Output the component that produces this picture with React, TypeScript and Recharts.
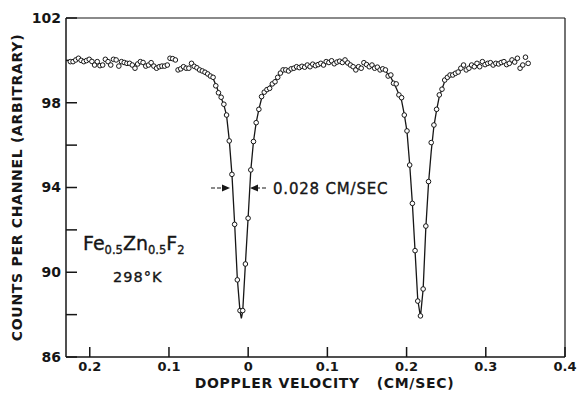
import { ComposedChart, Line, Scatter, XAxis, YAxis, ReferenceLine } from 'recharts'

// channel velocities (cm/sec) and counts
const velocity = [
  -0.2245, -0.2211, -0.2177, -0.2143, -0.2109, -0.2075, -0.2041, -0.2007, -0.1973, -0.1939,
  -0.1905, -0.1871, -0.1837, -0.1803, -0.1769, -0.1735, -0.1701, -0.1667, -0.1633, -0.1599,
  -0.1565, -0.1531, -0.1497, -0.1463, -0.1429, -0.1395, -0.1361, -0.1327, -0.1293, -0.1259,
  -0.1225, -0.1191, -0.1157, -0.1123, -0.1089, -0.1055, -0.1021, -0.0987, -0.0953, -0.0919,
  -0.0885, -0.0851, -0.0817, -0.0783, -0.0749, -0.0715, -0.0681, -0.0647, -0.0613, -0.0579,
  -0.0545, -0.0511, -0.0477, -0.0443, -0.0409, -0.0375, -0.0341, -0.0307, -0.0273, -0.0239,
  -0.0205, -0.0171, -0.0137, -0.0103, -0.0069, -0.0035, -0.0001, 0.0033, 0.0067, 0.0101,
  0.0135, 0.0169, 0.0203, 0.0237, 0.0271, 0.0305, 0.0339, 0.0373, 0.0407, 0.0441,
  0.0475, 0.0509, 0.0543, 0.0577, 0.0611, 0.0645, 0.0679, 0.0713, 0.0747, 0.0781,
  0.0815, 0.0849, 0.0883, 0.0917, 0.0951, 0.0985, 0.1019, 0.1053, 0.1087, 0.1121,
  0.1155, 0.1189, 0.1223, 0.1257, 0.1291, 0.1325, 0.1359, 0.1393, 0.1427, 0.1461,
  0.1495, 0.1529, 0.1563, 0.1597, 0.1631, 0.1665, 0.1699, 0.1733, 0.1767, 0.1801,
  0.1835, 0.1869, 0.1903, 0.1937, 0.1971, 0.2005, 0.2039, 0.2073, 0.2107, 0.2141,
  0.2175, 0.2209, 0.2243, 0.2277, 0.2311, 0.2345, 0.2379, 0.2413, 0.2447, 0.2481,
  0.2515, 0.2549, 0.2583, 0.2617, 0.2651, 0.2685, 0.2719, 0.2753, 0.2787, 0.2821,
  0.2855, 0.2889, 0.2923, 0.2957, 0.2991, 0.3025, 0.3059, 0.3093, 0.3127, 0.3161,
  0.3195, 0.3229, 0.3263, 0.3297, 0.3331, 0.3365, 0.3399, 0.3433, 0.3467, 0.3501,
  0.3535,
]

const counts = [
  99.94, 99.94, 100.02, 100.1, 100.0, 99.94, 99.99, 100.05, 99.95, 99.78,
  99.94, 99.75, 99.78, 100.05, 99.94, 99.78, 100.05, 100.02, 99.73, 99.94,
  99.9, 99.86, 99.86, 99.78, 99.63, 99.83, 99.94, 99.9, 99.73, 99.78,
  99.89, 99.73, 99.63, 99.7, 99.73, 99.73, 99.78, 100.1, 100.08, 100.02,
  99.55, 99.6, 99.7, 99.63, 99.63, 99.86, 99.72, 99.65, 99.55, 99.5,
  99.44, 99.36, 99.26, 99.2, 98.8, 98.47, 98.26, 97.93, 97.42, 96.2,
  94.62, 92.26, 89.64, 88.19, 88.19, 90.39, 92.55, 94.83, 96.17, 97.06,
  97.69, 98.29, 98.5, 98.62, 98.68, 98.89, 98.99, 99.2, 99.4, 99.55,
  99.55, 99.5, 99.6, 99.63, 99.7, 99.66, 99.72, 99.68, 99.78, 99.7,
  99.82, 99.75, 99.8, 99.86, 99.78, 99.94, 99.9, 99.98, 99.84, 99.92,
  99.96, 99.9, 100.02, 99.88, 99.78, 99.7, 99.55, 99.7, 99.63, 99.89,
  99.8, 99.7, 99.78, 99.63, 99.68, 99.55, 99.6, 99.55, 99.26, 99.31,
  98.92, 98.89, 98.37, 98.24, 97.42, 96.67, 95.06, 93.25, 91.02, 88.64,
  87.94, 89.21, 92.18, 94.28, 96.12, 96.95, 97.69, 98.37, 98.64, 99.07,
  99.2, 99.31, 99.31, 99.39, 99.45, 99.63, 99.78, 99.55, 99.63, 99.78,
  99.7, 99.86, 99.7, 99.94, 99.8, 99.86, 99.89, 99.78, 99.86, 99.83,
  99.9, 99.94, 99.8, 99.86, 100.02, 99.92, 100.1, 99.63, 99.78, 100.15,
  99.86,
]

// hand-drawn curves through the two absorption lines
const fit1Velocity = [
  -0.0511, -0.0477, -0.0443, -0.0409, -0.0375, -0.0341, -0.0307, -0.0273, -0.0239, -0.0205,
  -0.0171, -0.0137, -0.0103, -0.0086, -0.0069, -0.0035, -0.0001, 0.0033, 0.0067, 0.0101,
  0.0135, 0.0169, 0.0203, 0.0237, 0.0271, 0.0305, 0.0339, 0.0373, 0.0407,
]
const fit1Counts = [
  99.36, 99.28, 99.15, 98.85, 98.52, 98.22, 97.9, 97.4, 96.25, 94.62,
  92.3, 89.7, 88.15, 87.82, 88.15, 90.4, 92.55, 94.8, 96.17, 97.06,
  97.69, 98.2, 98.5, 98.65, 98.78, 98.92, 99.05, 99.2, 99.4,
]
const fit2Velocity = [
  0.1699, 0.1733, 0.1767, 0.1801, 0.1835, 0.1869, 0.1903, 0.1937, 0.1971, 0.2005,
  0.2039, 0.2073, 0.2107, 0.2141, 0.2175, 0.2209, 0.2243, 0.2277, 0.2311, 0.2345,
  0.2379, 0.2413, 0.2447, 0.2481, 0.2515, 0.2549,
]
const fit2Counts = [
  99.6, 99.5, 99.35, 99.2, 98.95, 98.7, 98.4, 98.1, 97.45, 96.65,
  95.1, 93.25, 91.0, 88.7, 87.9, 89.2, 92.1, 94.2, 95.7, 96.9,
  97.65, 98.3, 98.65, 99.0, 99.2, 99.3,
]

const xTicks = [-0.2, -0.1, 0, 0.1, 0.2, 0.3, 0.4]
const yTicks = [86, 88, 90, 92, 94, 96, 98, 100, 102]
const yLabelled = [86, 90, 94, 98, 102]

const points = velocity.map((v, i) => ({ v, c: counts[i] }))
const fit1 = fit1Velocity.map((v, i) => ({ v, c: fit1Counts[i] }))
const fit2 = fit2Velocity.map((v, i) => ({ v, c: fit2Counts[i] }))

const ink = '#161616'
const font = '"DejaVu Sans", sans-serif'
const yTickStyle = { fill: ink, fontSize: 14, fontWeight: 700, fontFamily: font }
const xTickStyle = { fill: ink, fontSize: 13, fontWeight: 700, fontFamily: font }

const OpenDot = (p: any) => (
  <circle cx={p.cx} cy={p.cy} r={2.3} fill="#fff" stroke={ink} strokeWidth={1} />
)

export default function App() {
  // body margin dropped so the full 577px width is usable (the 0.4 label sits at the edge)
  return (
    <div style={{ position: 'relative', width: 577, height: 396 }}>
      <style>{'body{margin:0}'}</style>
      <ComposedChart width={577} height={396} margin={{ top: 18, right: 12, left: 0, bottom: 0 }}>
        <XAxis
          dataKey="v"
          type="number"
          domain={[-0.23, 0.4]}
          ticks={xTicks}
          interval={0}
          allowDataOverflow
          tickFormatter={(t: number) => (t === 0 ? '0' : String(Math.abs(t)))}
          tickSize={-10}
          tickMargin={15}
          height={39}
          stroke={ink}
          strokeWidth={1.5}
          tick={xTickStyle}
          label={{
            value: 'DOPPLER VELOCITY\u00a0\u00a0\u00a0(CM/SEC)',
            position: 'insideBottom',
            offset: 8,
            dx: 9,
            style: { fill: ink, fontSize: 14, fontWeight: 700, fontFamily: font, letterSpacing: 0.7 },
          }}
        />
        <YAxis
          type="number"
          domain={[86, 102]}
          ticks={yTicks}
          interval={0}
          allowDataOverflow
          tickFormatter={(t: number) => (yLabelled.includes(t) ? String(t) : '')}
          tickSize={-11}
          tickMargin={16}
          width={66}
          stroke={ink}
          strokeWidth={1.5}
          tick={yTickStyle}
          label={{
            value: 'COUNTS PER CHANNEL (ARBITRARY)',
            angle: -90,
            position: 'insideLeft',
            offset: 17,
            style: { fill: ink, fontSize: 14, fontWeight: 700, fontFamily: font, letterSpacing: 0.7, textAnchor: 'middle' },
          }}
        />
        <ReferenceLine y={102} stroke={ink} strokeWidth={1.2} />
        <ReferenceLine x={0.4} stroke={ink} strokeWidth={1.2} />
        <Line data={fit1} dataKey="c" type="linear" stroke={ink} strokeWidth={1.3} dot={false} isAnimationActive={false} />
        <Line data={fit2} dataKey="c" type="linear" stroke={ink} strokeWidth={1.3} dot={false} isAnimationActive={false} />
        <Scatter data={points} dataKey="c" shape={OpenDot} isAnimationActive={false} />
      </ComposedChart>
      <svg width={577} height={396} style={{ position: 'absolute', left: 0, top: 0, pointerEvents: 'none' }}>
        <g fill={ink} stroke={ink} strokeWidth={0.35} fontFamily={font}>
          <text x={83} y={250} fontSize={19}>
            Fe<tspan fontSize={11.5} dy={4}>0.5</tspan>
            <tspan fontSize={19} dy={-4}>Zn</tspan>
            <tspan fontSize={11.5} dy={4}>0.5</tspan>
            <tspan fontSize={19} dy={-4}>F</tspan>
            <tspan fontSize={11.5} dy={4}>2</tspan>
          </text>
          <text x={113} y={282} fontSize={14.5} letterSpacing={1}>298°K</text>
          <text x={273} y={194} fontSize={15} letterSpacing={0.8}>0.028 CM/SEC</text>
        </g>
        <g stroke={ink} strokeWidth={1.2}>
          <line x1={211} y1={188} x2={224} y2={188} strokeDasharray="4 2" />
          <line x1={256} y1={188} x2={268} y2={188} strokeDasharray="4 2" />
        </g>
        <polygon points="230,188 222,184.5 222,191.5" fill={ink} />
        <polygon points="250,188 258,184.5 258,191.5" fill={ink} />
      </svg>
    </div>
  )
}
